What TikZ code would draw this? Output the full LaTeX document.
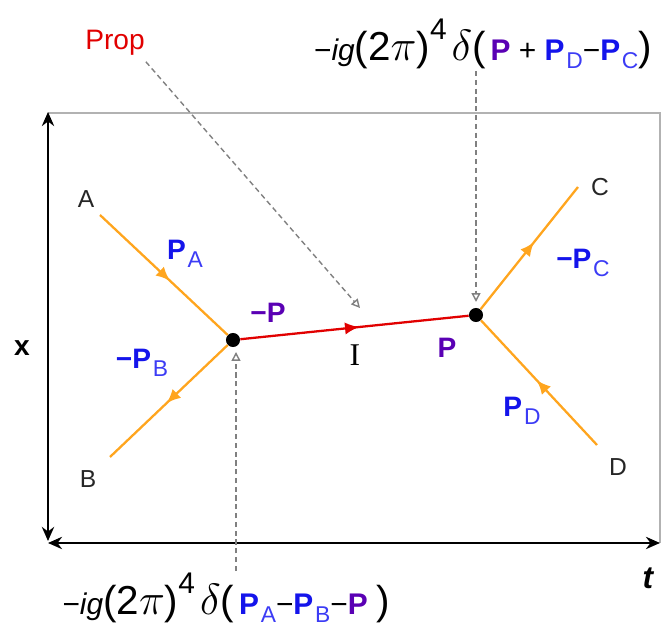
\documentclass[tikz,border=0pt]{standalone}
\usepackage{fontspec}
\setmainfont{Liberation Sans}
\newfontfamily\seriffont{Liberation Serif}
\usepackage{tikz}
\usetikzlibrary{arrows.meta,decorations.markings}

\definecolor{legor}{RGB}{255,165,30}
\definecolor{propred}{RGB}{225,0,0}
\definecolor{momblue}{RGB}{20,20,235}
\definecolor{subblue}{RGB}{60,60,245}
\definecolor{mompur}{RGB}{90,0,180}

% bold momentum with a lowered light subscript
\newcommand{\sub}[1]{\raisebox{-0.55ex}{\fontsize{13}{15}\selectfont\textcolor{subblue}{#1}}}
\newcommand{\mom}[1]{\textcolor{momblue}{\textbf{P}}\kern1pt\sub{#1}}
\newcommand{\pp}{\textcolor{mompur}{\textbf{P}}}
\newcommand{\bigf}[1]{{\fontsize{23}{26}\selectfont #1}}
\newcommand{\pref}{−\textit{ig}\bigf{(2$\pi$)}\raisebox{1.3ex}{4}\,\bigf{$\delta$(}}

\begin{document}
\begin{tikzpicture}[
    leg/.style={legor, line width=1.3pt, postaction={decorate},
      decoration={markings, mark=at position #1 with {\arrow{Latex[length=8pt,width=7pt]}}}},
    leg/.default=0.5,
    prp/.style={propred, line width=1.3pt, postaction={decorate},
      decoration={markings, mark=at position 0.52 with {\arrow{Latex[length=8pt,width=7pt]}}}},
    axis/.style={{Stealth[length=8pt,width=7pt]}-{Stealth[length=8pt,width=7pt]}, line width=1.2pt},
    note/.style={gray, densely dashed, line width=0.8pt, -{Triangle[open,length=5pt,width=5pt]}},
    ext/.style={font=\fontsize{14}{16}\selectfont, text=black!85},
    lbl/.style={font=\fontsize{16}{18}\selectfont},
    vtx/.style={circle, fill=black, inner sep=0pt, minimum size=8pt},
    frm/.style={font=\fontsize{17}{20}\selectfont, inner sep=1pt}
]
\useasboundingbox (0,0) rectangle (13.24,12.54);

% frame and axes
\draw[gray!60, line width=0.9pt] (0.96,10.28) -| (13.2,1.68);
\draw[axis] (0.96,10.3) -- (0.96,1.72);
\draw[axis] (0.96,1.68) -- (13.2,1.68);
\node[font=\bfseries\fontsize{16}{18}\selectfont] (xlab) at (0.44,5.58) {x};
\node[font=\bfseries\itshape\fontsize{18}{20}\selectfont] (tlab) at (12.96,0.98) {t};

% vertices
\node[vtx] (v1) at (4.66,5.74) {};
\node[vtx] (v2) at (9.52,6.24) {};

% external legs
\coordinate (ea) at (2.0,8.24);
\coordinate (eb) at (2.2,3.4);
\coordinate (ec) at (11.56,8.8);
\coordinate (ed) at (11.94,3.64);
\node[ext] (A) at (1.72,8.56) {A};
\node[ext] (B) at (1.76,2.96) {B};
\node[ext] (C) at (12.0,8.8) {C};
\node[ext] (D) at (12.36,3.2) {D};

\draw[leg=0.55] (ea) -- (v1);
\draw[leg=0.52] (v1) -- (eb);
\draw[leg=0.55] (v2) -- (ec);
\draw[leg=0.52] (ed) -- (v2);
\draw[prp] (v1) -- (v2);

% momenta
\node[lbl] (pa) at (3.7,7.46) {\mom{A}};
\node[lbl] (pb) at (2.84,5.28) {\textcolor{momblue}{\textbf{−}}\mom{B}};
\node[lbl] (pc) at (11.66,7.28) {\textcolor{momblue}{\textbf{−}}\mom{C}};
\node[lbl] (pd) at (10.44,4.32) {\mom{D}};
\node[lbl] (mp) at (5.36,6.28) {\textcolor{mompur}{\textbf{−P}}};
\node[lbl] (pp) at (8.94,5.58) {\pp};
\node[font=\seriffont\fontsize{18}{20}\selectfont] (I) at (7.1,5.44) {I};

% annotations
\node[text=propred, font=\fontsize{16}{18}\selectfont] (prop) at (2.3,11.68) {Prop};
\node[frm] (top) at (9.66,11.66) {\pref\,\pp\ + \mom{D}−\mom{C}\bigf{)}};
\node[frm] (bot) at (4.52,0.58) {\pref\,\mom{A}−\mom{B}−\pp\ \bigf{)}};
\coordinate (tI) at (7.2,6.38);
\coordinate (tv2) at (9.52,6.5);
\coordinate (tv1) at (4.72,5.5);
\draw[note] (prop.south east) ++(-0.1,0) -- (tI);
\draw[note] (top.south -| tv2) -- (tv2);
\draw[note] (bot.north -| tv1) -- (tv1);
\end{tikzpicture}
\end{document}
